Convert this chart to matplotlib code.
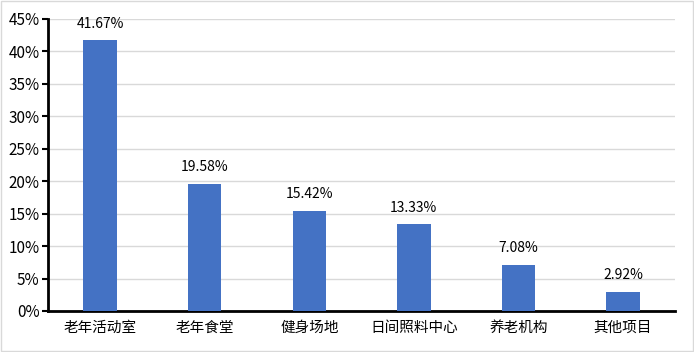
import matplotlib
matplotlib.use("Agg")
import matplotlib.pyplot as plt
from matplotlib.ticker import FuncFormatter, MultipleLocator
from matplotlib.patches import Rectangle

plt.rcParams['font.family'] = ['Noto Sans CJK SC', 'DejaVu Sans']

# Data
categories = ['老年活动室', '老年食堂', '健身场地', '日间照料中心', '养老机构', '其他项目']
values = [41.67, 19.58, 15.42, 13.33, 7.08, 2.92]
labels = ['41.67%', '19.58%', '15.42%', '13.33%', '7.08%', '2.92%']

fig = plt.figure(figsize=(6.94, 3.52), dpi=100)
ax = fig.add_axes([0.069, 0.1165, 0.904, 0.83])

x = range(len(categories))
ax.bar(x, values, width=0.32, color='#4472C4', zorder=3)

for i, v in enumerate(values):
    ax.text(i, v + 1.5, labels[i], ha='center', va='bottom', fontsize=10)

ax.set_xlim(-0.5, len(categories) - 0.5)
ax.set_ylim(0, 45)
ax.yaxis.set_major_locator(MultipleLocator(5))
ax.yaxis.set_major_formatter(FuncFormatter(lambda v, p: f'{v:.0f}%'))
ax.set_xticks(list(x))
ax.set_xticklabels(categories, fontsize=10.5)

ax.grid(axis='y', color='#d9d9d9', linewidth=1, zorder=0)
for s in ['top', 'right']:
    ax.spines[s].set_visible(False)
ax.spines['left'].set_linewidth(2)
ax.spines['bottom'].set_linewidth(2)
ax.tick_params(axis='y', length=4, width=1.5, labelsize=11, pad=2)
ax.tick_params(axis='x', length=0, pad=7)

fig.patches.append(Rectangle((0.001, 0.002), 0.997, 0.995, transform=fig.transFigure,
                             fill=False, edgecolor='#d9d9d9', linewidth=1))

plt.savefig("out.png", dpi=100)
